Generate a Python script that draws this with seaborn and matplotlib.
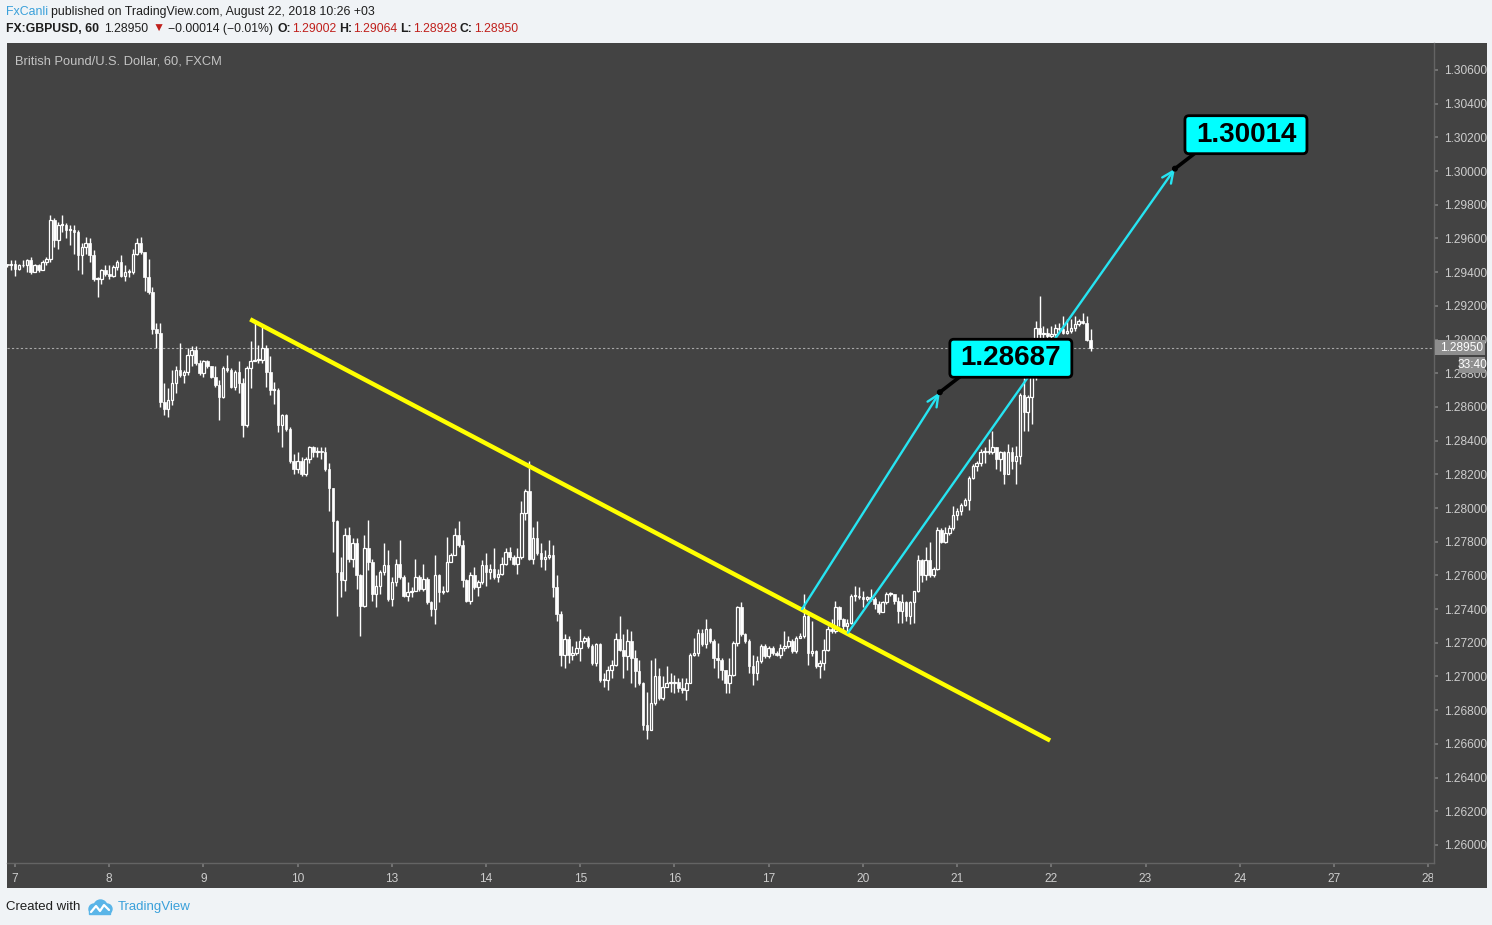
import numpy as np
import pandas as pd
import seaborn as sns
import matplotlib.pyplot as plt
from matplotlib.patches import Rectangle, FancyBboxPatch, Circle
from matplotlib.lines import Line2D
from matplotlib.transforms import Bbox, IdentityTransform

W, H = 1492, 925
BG = '#434343'
PAGE = '#f0f3f6'
AXIS_TXT = '#cdcdcd'
DARK_TXT = '#1e1e1e'
RED_TXT = '#c0201c'
BLUE_TXT = '#3aa0da'
CYAN = '#00ffff'
ARROW = '#26e4f2'
YELLOW = '#ffff00'

# ===================== GBPUSD 1h, hour index from 7 Aug 00:00 ===================== #
# (weekend skipped, two last hours of 6 Aug in front)
hours = np.arange(-2, 275)

close_px = [
    1.2944, 1.2945,
    # 7 Aug
    1.2942, 1.2944, 1.2944, 1.2947, 1.2940, 1.2944, 1.2941, 1.2946, 1.2948, 1.2971, 1.2959, 1.2968,
    1.2968, 1.2965, 1.2965, 1.2964, 1.2950, 1.2955, 1.2957, 1.2950, 1.2936, 1.2936, 1.2941, 1.2939,
    # 8 Aug
    1.2938, 1.2943, 1.2946, 1.2938, 1.2940, 1.2940, 1.2951, 1.2957, 1.2952, 1.2937, 1.2928, 1.2906,
    1.2904, 1.2863, 1.2859, 1.2864, 1.2874, 1.2882, 1.2879, 1.2881, 1.2891, 1.2894, 1.2886, 1.2880,
    # 9 Aug
    1.2887, 1.2884, 1.2878, 1.2873, 1.2866, 1.2883, 1.2882, 1.2872, 1.2881, 1.2874, 1.2849, 1.2883,
    1.2887, 1.2888, 1.2888, 1.2895, 1.2881, 1.2870, 1.2870, 1.2849, 1.2855, 1.2847, 1.2828, 1.2823,
    # 10 Aug
    1.2828, 1.2820, 1.2829, 1.2836, 1.2833, 1.2834, 1.2833, 1.2823, 1.2812, 1.2792, 1.2762, 1.2757,
    1.2784, 1.2770, 1.2779, 1.2760, 1.2742, 1.2776, 1.2768, 1.2749, 1.2754, 1.2762, 1.2766, 1.2746,
    # 13 Aug
    1.2756, 1.2767, 1.2759, 1.2748, 1.2750, 1.2751, 1.2759, 1.2752, 1.2758, 1.2744, 1.2740, 1.2760,
    1.2750, 1.2751, 1.2768, 1.2772, 1.2784, 1.2778, 1.2757, 1.2745, 1.2760, 1.2753, 1.2756, 1.2766,
    # 14 Aug
    1.2762, 1.2764, 1.2759, 1.2761, 1.2767, 1.2774, 1.2771, 1.2767, 1.2771, 1.2797, 1.2810, 1.2770,
    1.2782, 1.2773, 1.2770, 1.2771, 1.2772, 1.2753, 1.2737, 1.2713, 1.2722, 1.2713, 1.2714, 1.2717,
    # 15 Aug
    1.2721, 1.2723, 1.2718, 1.2708, 1.2719, 1.2698, 1.2698, 1.2704, 1.2707, 1.2722, 1.2716, 1.2712,
    1.2721, 1.2711, 1.2703, 1.2696, 1.2671, 1.2668, 1.2684, 1.2700, 1.2687, 1.2694, 1.2696, 1.2696,
    # 16 Aug
    1.2697, 1.2693, 1.2692, 1.2696, 1.2713, 1.2714, 1.2726, 1.2719, 1.2728, 1.2721, 1.2711, 1.2710,
    1.2704, 1.2696, 1.2701, 1.2720, 1.2741, 1.2725, 1.2721, 1.2706, 1.2702, 1.2709, 1.2718, 1.2712,
    # 17 Aug
    1.2717, 1.2714, 1.2713, 1.2717, 1.2718, 1.2721, 1.2715, 1.2723, 1.2724, 1.2736, 1.2714, 1.2715,
    1.2706, 1.2708, 1.2716, 1.2728, 1.2727, 1.2741, 1.2734, 1.2730, 1.2732, 1.2748, 1.2748, 1.2747,
    # 20 Aug
    1.2746, 1.2747, 1.2746, 1.2743, 1.2738, 1.2744, 1.2749, 1.2749, 1.2745, 1.2739, 1.2744, 1.2736,
    1.2744, 1.2751, 1.2769, 1.2760, 1.2769, 1.2760, 1.2764, 1.2787, 1.2780, 1.2785, 1.2788, 1.2796,
    # 21 Aug
    1.2798, 1.2802, 1.2805, 1.2818, 1.2825, 1.2827, 1.2833, 1.2834, 1.2833, 1.2836, 1.2829, 1.2833,
    1.2820, 1.2833, 1.2828, 1.2831, 1.2867, 1.2857, 1.2866, 1.2878, 1.2907, 1.2903, 1.2904, 1.2902,
    # 22 Aug
    1.2903, 1.2907, 1.2906, 1.2904, 1.2905, 1.2907, 1.2909, 1.2911, 1.2910, 1.2900, 1.2895,
]

high_px = [
    1.2945, 1.2947,
    1.2947, 1.2945, 1.2947, 1.2948, 1.2949, 1.2945, 1.2945, 1.2947, 1.2949, 1.2974, 1.2972, 1.2970,
    1.2974, 1.2969, 1.2968, 1.2968, 1.2965, 1.2957, 1.2961, 1.2960, 1.2953, 1.2937, 1.2942, 1.2944,
    1.2944, 1.2944, 1.2947, 1.2950, 1.2944, 1.2942, 1.2954, 1.2960, 1.2961, 1.2952, 1.2948, 1.2931,
    1.2910, 1.2910, 1.2874, 1.2871, 1.2882, 1.2884, 1.2898, 1.2882, 1.2895, 1.2896, 1.2896, 1.2888,
    1.2888, 1.2888, 1.2884, 1.2884, 1.2876, 1.2884, 1.2891, 1.2883, 1.2882, 1.2887, 1.2877, 1.2884,
    1.2899, 1.2911, 1.2897, 1.2908, 1.2897, 1.2890, 1.2875, 1.2871, 1.2856, 1.2856, 1.2848, 1.2832,
    1.2833, 1.2830, 1.2830, 1.2837, 1.2837, 1.2836, 1.2836, 1.2836, 1.2827, 1.2812, 1.2793, 1.2771,
    1.2788, 1.2789, 1.2782, 1.2782, 1.2761, 1.2784, 1.2793, 1.2770, 1.2760, 1.2763, 1.2779, 1.2775,
    1.2759, 1.2770, 1.2781, 1.2760, 1.2756, 1.2753, 1.2770, 1.2760, 1.2767, 1.2759, 1.2745, 1.2772,
    1.2761, 1.2754, 1.2783, 1.2773, 1.2788, 1.2792, 1.2781, 1.2758, 1.2762, 1.2765, 1.2757, 1.2769,
    1.2773, 1.2767, 1.2776, 1.2764, 1.2771, 1.2776, 1.2777, 1.2772, 1.2776, 1.2804, 1.2811, 1.2828,
    1.2789, 1.2792, 1.2779, 1.2775, 1.2781, 1.2778, 1.2760, 1.2739, 1.2725, 1.2724, 1.2718, 1.2721,
    1.2728, 1.2724, 1.2724, 1.2719, 1.2720, 1.2720, 1.2702, 1.2706, 1.2710, 1.2726, 1.2736, 1.2725,
    1.2728, 1.2727, 1.2716, 1.2710, 1.2697, 1.2691, 1.2710, 1.2711, 1.2705, 1.2700, 1.2706, 1.2702,
    1.2701, 1.2699, 1.2699, 1.2699, 1.2714, 1.2723, 1.2728, 1.2728, 1.2734, 1.2729, 1.2722, 1.2720,
    1.2711, 1.2704, 1.2711, 1.2721, 1.2742, 1.2744, 1.2726, 1.2722, 1.2713, 1.2712, 1.2719, 1.2719,
    1.2718, 1.2718, 1.2715, 1.2719, 1.2727, 1.2724, 1.2722, 1.2724, 1.2726, 1.2749, 1.2737, 1.2733,
    1.2716, 1.2710, 1.2722, 1.2730, 1.2734, 1.2745, 1.2742, 1.2735, 1.2734, 1.2749, 1.2754, 1.2753,
    1.2751, 1.2748, 1.2752, 1.2747, 1.2745, 1.2745, 1.2750, 1.2750, 1.2747, 1.2747, 1.2749, 1.2745,
    1.2745, 1.2751, 1.2772, 1.2770, 1.2777, 1.2780, 1.2765, 1.2789, 1.2788, 1.2789, 1.2790, 1.2801,
    1.2800, 1.2803, 1.2806, 1.2819, 1.2826, 1.2828, 1.2835, 1.2836, 1.2841, 1.2846, 1.2835, 1.2834,
    1.2834, 1.2838, 1.2836, 1.2837, 1.2868, 1.2878, 1.2867, 1.2879, 1.2911, 1.2926, 1.2908, 1.2907,
    1.2908, 1.2909, 1.2910, 1.2914, 1.2912, 1.2912, 1.2914, 1.2912, 1.2916, 1.2914, 1.2906,
]

low_px = [
    1.2943, 1.2941,
    1.2938, 1.2941, 1.2943, 1.2940, 1.2939, 1.2940, 1.2940, 1.2941, 1.2944, 1.2946, 1.2955, 1.2954,
    1.2964, 1.2960, 1.2956, 1.2951, 1.2941, 1.2939, 1.2951, 1.2946, 1.2935, 1.2925, 1.2933, 1.2938,
    1.2936, 1.2937, 1.2941, 1.2937, 1.2935, 1.2937, 1.2939, 1.2950, 1.2951, 1.2929, 1.2927, 1.2903,
    1.2895, 1.2860, 1.2855, 1.2854, 1.2861, 1.2868, 1.2878, 1.2874, 1.2879, 1.2884, 1.2885, 1.2879,
    1.2878, 1.2883, 1.2877, 1.2872, 1.2852, 1.2865, 1.2881, 1.2871, 1.2870, 1.2868, 1.2842, 1.2848,
    1.2871, 1.2887, 1.2886, 1.2886, 1.2872, 1.2867, 1.2862, 1.2845, 1.2836, 1.2846, 1.2827, 1.2820,
    1.2821, 1.2819, 1.2819, 1.2827, 1.2830, 1.2830, 1.2829, 1.2822, 1.2798, 1.2774, 1.2736, 1.2747,
    1.2751, 1.2768, 1.2765, 1.2752, 1.2724, 1.2741, 1.2763, 1.2745, 1.2741, 1.2749, 1.2760, 1.2745,
    1.2742, 1.2754, 1.2758, 1.2747, 1.2745, 1.2747, 1.2751, 1.2751, 1.2751, 1.2743, 1.2736, 1.2731,
    1.2744, 1.2749, 1.2750, 1.2768, 1.2772, 1.2777, 1.2753, 1.2744, 1.2743, 1.2752, 1.2748, 1.2755,
    1.2754, 1.2758, 1.2758, 1.2756, 1.2760, 1.2766, 1.2769, 1.2766, 1.2761, 1.2770, 1.2793, 1.2769,
    1.2767, 1.2772, 1.2765, 1.2763, 1.2770, 1.2747, 1.2733, 1.2706, 1.2705, 1.2708, 1.2710, 1.2713,
    1.2709, 1.2720, 1.2717, 1.2707, 1.2706, 1.2697, 1.2694, 1.2692, 1.2699, 1.2706, 1.2715, 1.2699,
    1.2704, 1.2696, 1.2694, 1.2695, 1.2668, 1.2663, 1.2668, 1.2683, 1.2686, 1.2686, 1.2694, 1.2691,
    1.2690, 1.2691, 1.2690, 1.2686, 1.2696, 1.2712, 1.2712, 1.2718, 1.2717, 1.2720, 1.2705, 1.2699,
    1.2698, 1.2690, 1.2690, 1.2700, 1.2718, 1.2724, 1.2720, 1.2702, 1.2695, 1.2698, 1.2708, 1.2711,
    1.2711, 1.2713, 1.2712, 1.2711, 1.2715, 1.2717, 1.2714, 1.2714, 1.2723, 1.2723, 1.2707, 1.2712,
    1.2705, 1.2699, 1.2704, 1.2715, 1.2726, 1.2726, 1.2730, 1.2727, 1.2726, 1.2731, 1.2745, 1.2746,
    1.2741, 1.2745, 1.2745, 1.2740, 1.2737, 1.2738, 1.2743, 1.2748, 1.2743, 1.2732, 1.2732, 1.2733,
    1.2731, 1.2732, 1.2750, 1.2756, 1.2757, 1.2759, 1.2759, 1.2763, 1.2779, 1.2779, 1.2784, 1.2787,
    1.2793, 1.2796, 1.2801, 1.2799, 1.2817, 1.2822, 1.2825, 1.2827, 1.2832, 1.2832, 1.2823, 1.2822,
    1.2814, 1.2820, 1.2823, 1.2814, 1.2826, 1.2846, 1.2846, 1.2850, 1.2876, 1.2901, 1.2901, 1.2901,
    1.2901, 1.2901, 1.2905, 1.2903, 1.2903, 1.2904, 1.2905, 1.2908, 1.2909, 1.2899, 1.2893,
]
first_open = 1.2945

day_hours = [0, 24, 48, 72, 96, 120, 144, 168, 192, 216, 240, 264, 288, 312, 336, 360]
day_labels = ['7', '8', '9', '10', '13', '14', '15', '16', '17', '20', '21', '22', '23', '24', '27', '28']
price_ticks = np.arange(1.260, 1.3061, 0.002)

last_price = 1.28950
countdown = '33:40'

# drawings on the chart: (hour, price) of both ends
trend_hours = [59.9, 263.7]
trend_prices = [1.2912, 1.2662]
target_a_hours = [200.5, 235.6]
target_a_prices = [1.2740, 1.28687]
target_b_hours = [212.2, 295.5]
target_b_prices = [1.2726, 1.30014]

# =================================================================================== #

df = pd.DataFrame({'hour': hours, 'close': close_px, 'high': high_px, 'low': low_px})
df['open'] = df['close'].shift(1).fillna(first_open)
df['high'] = df[['high', 'open', 'close']].max(axis=1)
df['low'] = df[['low', 'open', 'close']].min(axis=1)

sns.set_theme(style='dark', rc={'axes.facecolor': BG, 'figure.facecolor': PAGE})
plt.rcParams['font.family'] = ['Liberation Sans', 'DejaVu Sans']

fig = plt.figure(figsize=(W / 100, H / 100), dpi=100)
fig.patches.append(Rectangle((7 / W, 1 - 888 / H), 1480 / W, 845 / H, transform=fig.transFigure,
                             facecolor=BG, edgecolor='none', zorder=-10))
ax = fig.add_axes([7 / W, 1 - 863 / H, 1427 / W, 820 / H])
ax.set_facecolor(BG)
ax.grid(False)

# candles
up = df['close'] >= df['open']
body_lo = df[['open', 'close']].min(axis=1)
body_h = (df['close'] - df['open']).abs().clip(lower=0.00005)
ax.vlines(df['hour'], df['low'], df['high'], color='white', lw=1.0, zorder=2)
ax.bar(df.loc[~up, 'hour'], body_h[~up], bottom=body_lo[~up], width=0.66,
       color='white', edgecolor='white', lw=0.5, zorder=3)
ax.bar(df.loc[up, 'hour'], body_h[up], bottom=body_lo[up], width=0.66,
       facecolor=BG, edgecolor='white', lw=0.9, zorder=3)

ax.axhline(last_price, color='#a8a8a8', lw=0.8, ls=(0, (2, 2)), zorder=1)

# drawings
ax.plot(trend_hours, trend_prices, color=YELLOW, lw=3.2, solid_capstyle='butt', zorder=5)
for hh, pp in [(target_a_hours, target_a_prices), (target_b_hours, target_b_prices)]:
    ax.annotate('', xy=(hh[1], pp[1]), xytext=(hh[0], pp[0]),
                arrowprops=dict(arrowstyle='->,head_length=0.7,head_width=0.32', color=ARROW,
                                lw=1.7, shrinkA=0, shrinkB=0), zorder=6)

ax.set_xlim(-2.06, 361.5)
ax.set_ylim(1.25893, 1.30760)

ax.set_xticks(day_hours)
ax.set_xticklabels(day_labels)
ax.set_yticks(price_ticks)
ax.set_yticklabels([f'{v:.5f}' for v in price_ticks])
ax.yaxis.tick_right()
ax.tick_params(axis='y', right=True, left=False, length=3, pad=4, color='#7a7a7a',
               labelcolor=AXIS_TXT, labelsize=8.6)
ax.tick_params(axis='x', bottom=True, length=3, pad=4, color='#7a7a7a',
               labelcolor=AXIS_TXT, labelsize=8.6)
for side in ['top', 'left']:
    ax.spines[side].set_visible(False)
for side in ['bottom', 'right']:
    ax.spines[side].set_color('#646464')
    ax.spines[side].set_linewidth(1)
for lbl in ax.get_xticklabels():
    lbl.set_clip_on(True)
    lbl.set_clip_box(Bbox([[0, 0], [1433, H]]))

ax.text(8 / 1427, 1 - 18 / 820, 'British Pound/U.S. Dollar, 60, FXCM', transform=ax.transAxes,
        color='#c4c4c4', fontsize=9.3, va='center', ha='left')

# callouts with target prices
ident = IdentityTransform()
for hh, pp in [(target_a_hours, target_a_prices), (target_b_hours, target_b_prices)]:
    tx, ty = ax.transData.transform((hh[1], pp[1]))
    fig.add_artist(Line2D([tx, tx + 22], [ty, ty + 17], transform=ident, color='black', lw=2.6, zorder=9))
    fig.add_artist(Circle((tx, ty), 2.3, transform=ident, color='black', zorder=11))
    fig.add_artist(FancyBboxPatch((tx + 10, ty + 15), 122, 38, boxstyle='round,pad=0,rounding_size=4',
                                  transform=ident, facecolor=CYAN, edgecolor='black', lw=2, zorder=10))
    fig.text(tx + 71, ty + 34, f'{pp[1]:.5f}', transform=ident, ha='center', va='center',
             fontsize=20, fontweight='bold', color='black', zorder=12)

# last price / countdown labels on the price scale
py = ax.transData.transform((0, last_price))[1]
fig.add_artist(Rectangle((1435, py - 7.5), 50, 15, transform=ident, facecolor='#8e8e8e', edgecolor='none', zorder=10))
fig.text(1440, py, f'{last_price:.5f}', transform=ident, ha='left', va='center', fontsize=8.6, color='white', zorder=11)
fig.add_artist(Rectangle((1459, py - 25), 26, 16, transform=ident, facecolor='#8e8e8e', edgecolor='none', zorder=10))
fig.text(1472, py - 17, countdown, transform=ident, ha='center', va='center', fontsize=8.6, color='white', zorder=11)

# header / footer texts (pieces of different colour one after another)
renderer = fig.canvas.get_renderer()


def put_pieces(x_px, y_px, pieces, size):
    x = x_px
    for txt, color, weight, gap in pieces:
        x += gap
        t = fig.text(x, H - y_px, txt, transform=ident, color=color, fontweight=weight,
                     fontsize=size, va='center', ha='left')
        x = t.get_window_extent(renderer).x1


put_pieces(6, 12, [('FxCanli', BLUE_TXT, 'normal', 0),
                   ('published on TradingView.com, August 22, 2018 10:26 +03', DARK_TXT, 'normal', 3)], 8.9)
put_pieces(6, 29, [('FX:GBPUSD, 60', DARK_TXT, 'bold', 0),
                   ('1.28950', DARK_TXT, 'normal', 5),
                   ('▼', RED_TXT, 'normal', 4),
                   ('\u22120.00014 (\u22120.01%)', DARK_TXT, 'normal', 4),
                   ('O:', DARK_TXT, 'bold', 4), ('1.29002', RED_TXT, 'normal', 1),
                   ('H:', DARK_TXT, 'bold', 3), ('1.29064', RED_TXT, 'normal', 1),
                   ('L:', DARK_TXT, 'bold', 3), ('1.28928', RED_TXT, 'normal', 1),
                   ('C:', DARK_TXT, 'bold', 3), ('1.28950', RED_TXT, 'normal', 1)], 8.8)

fig.text(6, H - 907, 'Created with', transform=ident, color=DARK_TXT, fontsize=9.5, va='center', ha='left')
fig.text(118, H - 907, 'TradingView', transform=ident, color=BLUE_TXT, fontsize=9.5, va='center', ha='left')

# small cloud logo
ax_logo = fig.add_axes([86 / W, 1 - 917 / H, 27 / W, 19 / H])
ax_logo.set_xlim(0, 27)
ax_logo.set_ylim(0, 19)
ax_logo.axis('off')
for cx, cy, r in [(8, 8, 5), (14.5, 10.5, 6.5), (21, 8, 5)]:
    ax_logo.add_patch(Circle((cx, cy), r, color='#5ab5e8'))
ax_logo.add_patch(Rectangle((3, 3), 21, 5, color='#5ab5e8'))
ax_logo.plot([5, 10, 14, 18, 23], [5, 11, 6, 12, 7], color='white', lw=1.6)

fig.savefig('out.png', dpi=100, facecolor=PAGE)
